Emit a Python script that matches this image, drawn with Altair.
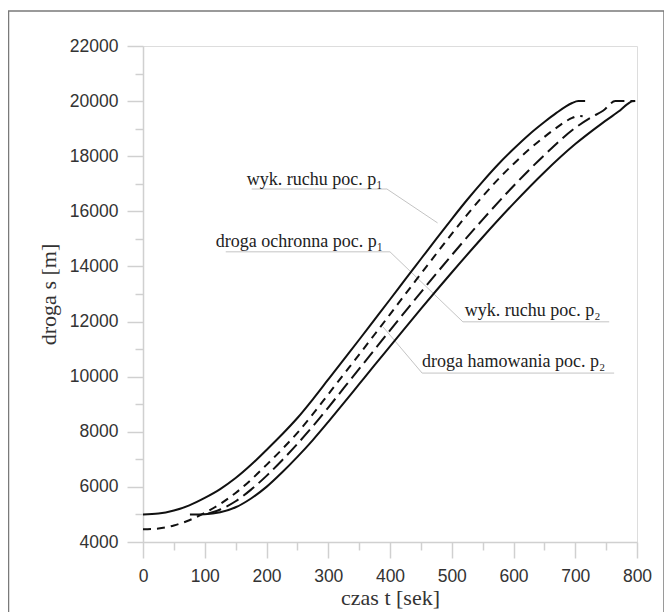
import altair as alt
import pandas as pd

# wyk. ruchu poc. p1 (solid, upper)
t_p1 = [0, 25, 50, 75, 100, 125, 150, 175, 200, 225, 250, 275, 300, 325, 350, 375, 400,
        425, 450, 475, 500, 525, 550, 575, 600, 625, 650, 670, 685, 695, 705, 716]
s_p1 = [5000, 5030, 5140, 5330, 5600, 5920, 6320, 6800, 7340, 7900, 8500, 9180, 9900, 10620,
        11340, 12070, 12800, 13540, 14270, 15000, 15720, 16420, 17080, 17700, 18260, 18780,
        19240, 19580, 19810, 19930, 20000, 20000]

# droga ochronna poc. p1 (short dashes)
t_och = [0, 25, 50, 75, 100, 125, 150, 175, 200, 225, 250, 275, 300, 325, 350, 375, 400,
         425, 450, 475, 500, 525, 550, 575, 600, 625, 650, 670, 685, 695, 705, 712]
s_och = [4460, 4490, 4600, 4790, 5060, 5380, 5780, 6260, 6800, 7360, 7960, 8640, 9360, 10080,
         10800, 11530, 12260, 13000, 13730, 14460, 15180, 15880, 16540, 17160, 17720, 18240,
         18700, 19040, 19270, 19390, 19460, 19450]

# wyk. ruchu poc. p2 (solid, lower)
t_p2 = [76, 100, 125, 150, 175, 200, 225, 250, 275, 300, 325, 350, 375, 400, 450, 500, 550,
        600, 650, 700, 745, 770, 785, 792, 797]
s_p2 = [5000, 5010, 5080, 5260, 5580, 6000, 6520, 7090, 7700, 8360, 9040, 9730, 10420, 11100,
        12460, 13780, 15060, 16280, 17420, 18440, 19220, 19620, 19900, 19990, 20000]

# droga hamowania poc. p2 (long dashes)
t_ham = [105, 125, 150, 175, 200, 225, 250, 275, 300, 325, 350, 375, 400, 450, 500, 550, 600,
         650, 700, 725, 745, 765, 797]
s_ham = [5030, 5180, 5480, 5900, 6400, 6960, 7560, 8200, 8880, 9580, 10280, 10980, 11680,
         13060, 14410, 15700, 16920, 18040, 19030, 19400, 19650, 20000, 20000]

# annotations (text anchor and leader lines, in data units)
ann_text = ["wyk. ruchu poc. p\u2081", "droga ochronna poc. p\u2081",
            "wyk. ruchu poc. p\u2082", "droga hamowania poc. p\u2082"]
ann_t = [168, 118, 521, 452]
ann_s = [16950, 14700, 12200, 10350]

leader_id = [0, 0, 0, 1, 1, 1, 2, 2, 3, 3, 3]
leader_t = [477, 395, 176, 134, 400, 518, 518, 755, 389, 452, 763]
leader_s = [15580, 16810, 16810, 14530, 14530, 11990, 11990, 11990, 11800, 10130, 10130]

x_ticks = list(range(0, 801, 50))
y_ticks = list(range(4000, 22001, 1000))

xscale = alt.Scale(domain=[0, 800], nice=False, zero=False)
yscale = alt.Scale(domain=[4000, 22000], nice=False, zero=False)

AX = "#d0d0d0"
x_axis = alt.Axis(
    values=x_ticks, format="d", title="czas t [sek]",
    labelExpr="datum.value % 100 === 0 ? datum.label : ''",
    tickSize={"condition": {"test": "datum.value % 100 === 0", "value": 16}, "value": 8},
    grid=False, domainColor=AX, tickColor=AX, domainWidth=1.5, tickWidth=1.5,
    labelFont="Liberation Sans", labelFontSize=17.5, labelColor="#333",
    labelPadding=9, labelFlush=False, labelOverlap=False,
    titleFont="Liberation Serif", titleFontSize=22, titleFontWeight="normal",
    titleColor="#333", titlePadding=3,
)
y_axis = alt.Axis(
    values=y_ticks, format="d", title="droga s [m]",
    labelExpr="datum.value % 2000 === 0 ? datum.label : ''",
    tickSize={"condition": {"test": "datum.value % 2000 === 0", "value": 16}, "value": 8},
    grid=False, domainColor=AX, tickColor=AX, domainWidth=1.5, tickWidth=1.5,
    labelFont="Liberation Sans", labelFontSize=17.5, labelColor="#333",
    labelPadding=9, labelFlush=False, labelOverlap=False,
    titleFont="Liberation Serif", titleFontSize=22, titleFontWeight="normal",
    titleColor="#333", titlePadding=9,
)

X = alt.X("t:Q", scale=xscale, axis=x_axis)
Y = alt.Y("s:Q", scale=yscale, axis=y_axis)

df_p1 = pd.DataFrame({"t": t_p1, "s": s_p1})
df_och = pd.DataFrame({"t": t_och, "s": s_och})
df_p2 = pd.DataFrame({"t": t_p2, "s": s_p2})
df_ham = pd.DataFrame({"t": t_ham, "s": s_ham})
df_ann = pd.DataFrame({"t": ann_t, "s": ann_s, "label": ann_text})
df_lead = pd.DataFrame({"t": leader_t, "s": leader_s, "id": leader_id,
                        "o": list(range(len(leader_t)))})

LINE = "#111111"

frame = alt.Chart(pd.DataFrame({"t": [0], "s": [4000]})).mark_rect(
    fill=None, stroke="#7a7a7a", strokeWidth=1.5, clip=False
).encode(
    x=alt.value(-134.5), x2=alt.value(521), y=alt.value(-35), y2=alt.value(590)
)

leaders = alt.Chart(df_lead).mark_line(color="#c4c4c4", strokeWidth=1).encode(
    x=X, y=Y, detail="id:N", order="o:Q",
)

def curve(df, dash=None):
    kw = dict(color=LINE, strokeWidth=2, interpolate="monotone")
    if dash:
        kw["strokeDash"] = dash
    return alt.Chart(df).mark_line(**kw).encode(x=X, y=Y)

texts = alt.Chart(df_ann).mark_text(
    align="left", baseline="alphabetic", font="Liberation Serif", fontSize=18, color="#222"
).encode(x=X, y=Y, text="label:N")

chart = alt.layer(
    leaders,
    curve(df_p1), curve(df_och, [8, 6]), curve(df_ham, [14, 6]), curve(df_p2),
    texts, frame,
).properties(
    width=494, height=496, autosize="none",
    padding={"left": 135, "top": 38, "right": 27, "bottom": 70},
).configure_view(strokeWidth=0).configure(background="white")

chart.save("out.html", embed_options={"renderer": "svg", "actions": False})
